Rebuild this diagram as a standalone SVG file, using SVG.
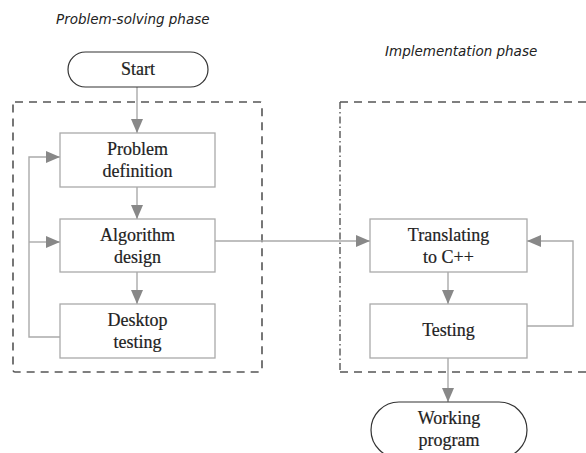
<svg xmlns="http://www.w3.org/2000/svg" width="586" height="453" viewBox="0 0 586 453">
  <style>
    .phase { font-family: "DejaVu Sans", "Open Sans", sans-serif; font-style: italic; font-size: 13.5px; fill: #222; }
    .lbl { font-family: "Liberation Serif", "Times New Roman", serif; font-size: 18px; fill: #222; text-anchor: middle; stroke: #222; stroke-width: 0.2; }
    .box { fill: #fff; stroke: #aaa; stroke-width: 1.3; }
    .term { fill: #fff; stroke: #333; stroke-width: 1.2; }
    .frame { fill: none; stroke: #555; stroke-width: 1.6; stroke-dasharray: 8 6; }
    .frame-dd { fill: none; stroke: #555; stroke-width: 1.4; stroke-dasharray: 7 3 1.5 3; }
    .wire { fill: none; stroke: #aaa; stroke-width: 1.4; }
  </style>
  <defs>
    <marker id="arrow" markerWidth="14" markerHeight="12" refX="14" refY="6" orient="auto" markerUnits="userSpaceOnUse">
      <path d="M0,0 L14,6 L0,12 Z" fill="#888"/>
    </marker>
  </defs>
  <rect width="586" height="453" fill="#fff"/>

  <!-- phase titles -->
  <text class="phase" x="56" y="24">Problem-solving phase</text>
  <text class="phase" x="385" y="56">Implementation phase</text>

  <!-- phase frames -->
  <g id="frame-problem">
    <rect class="frame" x="13" y="102" width="249" height="270" rx="2"/>
  </g>
  <g id="frame-implementation">
    <path class="frame" d="M340,102 H586 M340,372 H586"/>
    <path class="frame-dd" d="M340,102 V372"/>
  </g>

  <!-- connectors -->
  <g id="connectors">
    <path class="wire" d="M137,87 V133" marker-end="url(#arrow)"/>
    <path class="wire" d="M137,187 V219" marker-end="url(#arrow)"/>
    <path class="wire" d="M137,272 V304" marker-end="url(#arrow)"/>
    <path class="wire" d="M60,337 H29 V157 H60" marker-end="url(#arrow)"/>
    <path class="wire" d="M29,242 H60" marker-end="url(#arrow)"/>
    <path class="wire" d="M215,241 H370" marker-end="url(#arrow)"/>
    <path class="wire" d="M448,272 V304" marker-end="url(#arrow)"/>
    <path class="wire" d="M527,326 H573 V241 H527" marker-end="url(#arrow)"/>
    <path class="wire" d="M448,358 V402" marker-end="url(#arrow)"/>
  </g>

  <g id="start">
    <rect class="term" x="68" y="52" width="140" height="35" rx="17.5"/>
    <text class="lbl" x="138" y="75">Start</text>
  </g>
  <g id="problem-definition">
    <rect class="box" x="60" y="133" width="155" height="54"/>
    <text class="lbl" x="137.5" y="155">Problem</text>
    <text class="lbl" x="137.5" y="177">definition</text>
  </g>
  <g id="algorithm-design">
    <rect class="box" x="60" y="219" width="155" height="53"/>
    <text class="lbl" x="137.5" y="241">Algorithm</text>
    <text class="lbl" x="137.5" y="263">design</text>
  </g>
  <g id="desktop-testing">
    <rect class="box" x="60" y="304" width="155" height="54"/>
    <text class="lbl" x="137.5" y="326">Desktop</text>
    <text class="lbl" x="137.5" y="348">testing</text>
  </g>
  <g id="translating">
    <rect class="box" x="370" y="219" width="157" height="53"/>
    <text class="lbl" x="448.5" y="241">Translating</text>
    <text class="lbl" x="448.5" y="263">to C++</text>
  </g>
  <g id="testing">
    <rect class="box" x="370" y="304" width="157" height="54"/>
    <text class="lbl" x="448.5" y="336">Testing</text>
  </g>
  <g id="working-program">
    <rect class="term" x="371" y="402" width="156" height="56" rx="28"/>
    <text class="lbl" x="449" y="424">Working</text>
    <text class="lbl" x="449" y="446">program</text>
  </g>
</svg>
